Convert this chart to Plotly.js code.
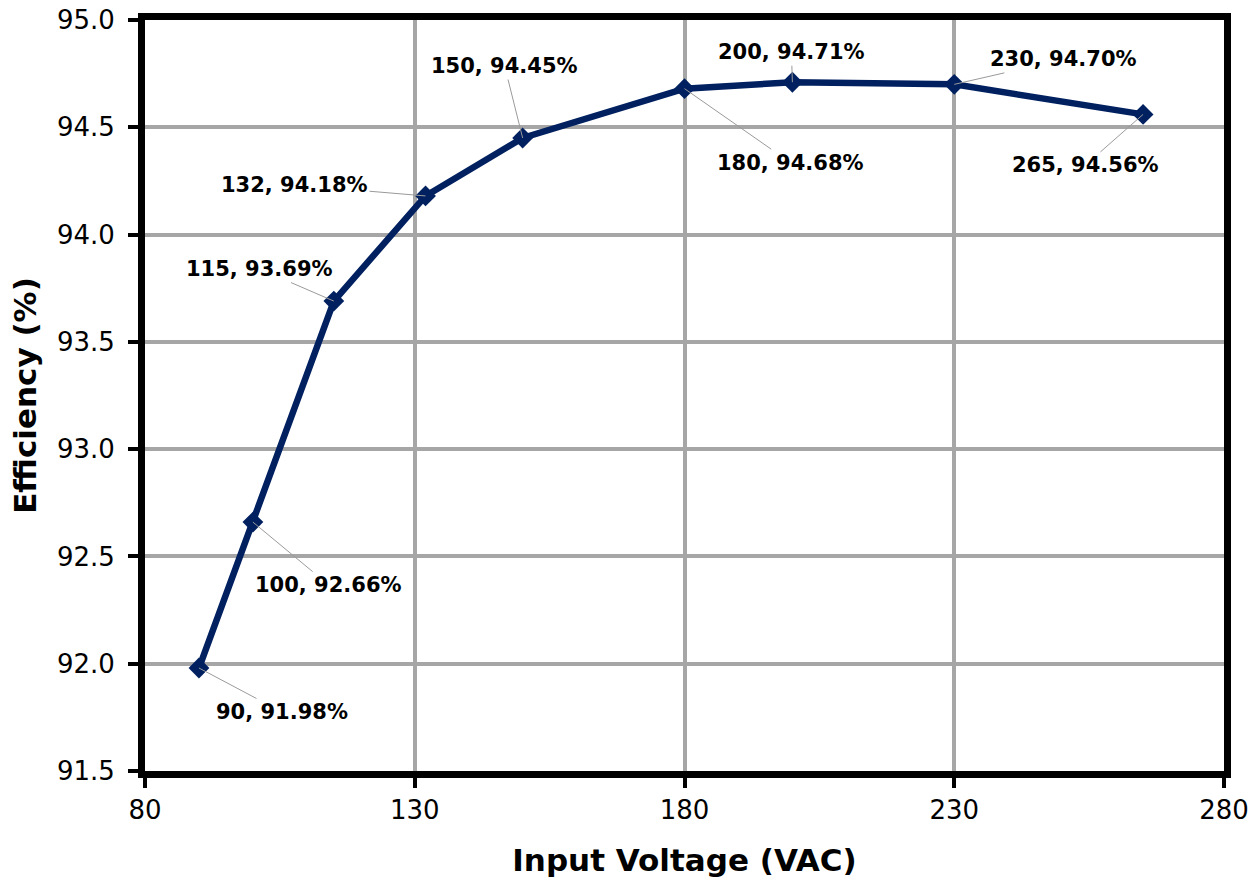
<!DOCTYPE html>
<html>
<head>
<meta charset="utf-8">
<script src="https://cdn.plot.ly/plotly-3.0.1.min.js"></script>
<style>html,body{margin:0;padding:0;background:#fff;}#chart{width:1254px;height:888px;}</style>
</head>
<body>
<div id="chart"></div>
<script>
// Data
const inputVoltage = [90, 100, 115, 132, 150, 180, 200, 230, 265];
const efficiency = [91.98, 92.66, 93.69, 94.18, 94.45, 94.68, 94.71, 94.70, 94.56];
const xTicks = [80, 130, 180, 230, 280];
const yTicks = [91.5, 92.0, 92.5, 93.0, 93.5, 94.0, 94.5, 95.0];

// Label offsets (pixels) for callouts
const labelOffsets = [[83,44],[76,63],[-74,-32],[-131,-11],[-18,-72],[106,74],[-1,-30],[109,-25],[-58,51]];

const FONT = 'DejaVu Sans, Verdana, sans-serif';
const NAVY = '#002060';

const annotations = inputVoltage.map((v, i) => ({
  x: v, y: efficiency[i], xref: 'x', yref: 'y',
  text: '<b>' + v + ', ' + efficiency[i].toFixed(2) + '%</b>',
  showarrow: true, arrowhead: 0, arrowwidth: 1, arrowcolor: '#9a9a9a',
  ax: labelOffsets[i][0], ay: labelOffsets[i][1],
  font: {family: FONT, size: 21, color: '#000'}
}));

const trace = {
  x: inputVoltage, y: efficiency, type: 'scatter', mode: 'lines+markers',
  line: {color: NAVY, width: 6.5},
  marker: {symbol: 'diamond', size: 16, color: NAVY},
  cliponaxis: false, hoverinfo: 'skip'
};

const layout = {
  width: 1254, height: 888,
  margin: {l: 145, r: 30, t: 20, b: 117},
  paper_bgcolor: '#fff', plot_bgcolor: '#fff',
  showlegend: false,
  font: {family: FONT, color: '#000'},
  xaxis: {
    range: [80, 280], tickvals: xTicks, ticktext: xTicks.map(String),
    showgrid: true, gridcolor: '#a6a6a6', gridwidth: 4,
    showline: true, linecolor: '#000', linewidth: 7, mirror: true,
    ticks: 'outside', ticklen: 10, tickwidth: 4, tickcolor: '#000',
    tickfont: {family: FONT, size: 26, color: '#000'},
    zeroline: false,
    title: {text: '<b>Input Voltage (VAC)</b>', font: {family: FONT, size: 31, color: '#000'}, standoff: 28}
  },
  yaxis: {
    range: [91.5, 95.0], tickvals: yTicks, ticktext: yTicks.map(t => t.toFixed(1)),
    showgrid: true, gridcolor: '#a6a6a6', gridwidth: 4,
    showline: true, linecolor: '#000', linewidth: 7, mirror: true,
    ticks: 'outside', ticklen: 10, tickwidth: 4, tickcolor: '#000',
    tickfont: {family: FONT, size: 26, color: '#000'},
    ticklabelstandoff: 8,
    zeroline: false,
    title: {text: '<b>Efficiency (%)</b>', font: {family: FONT, size: 31, color: '#000'}, standoff: 14}
  },
  annotations: annotations
};

Plotly.newPlot('chart', [trace], layout, {staticPlot: true});
</script>
</body>
</html>
